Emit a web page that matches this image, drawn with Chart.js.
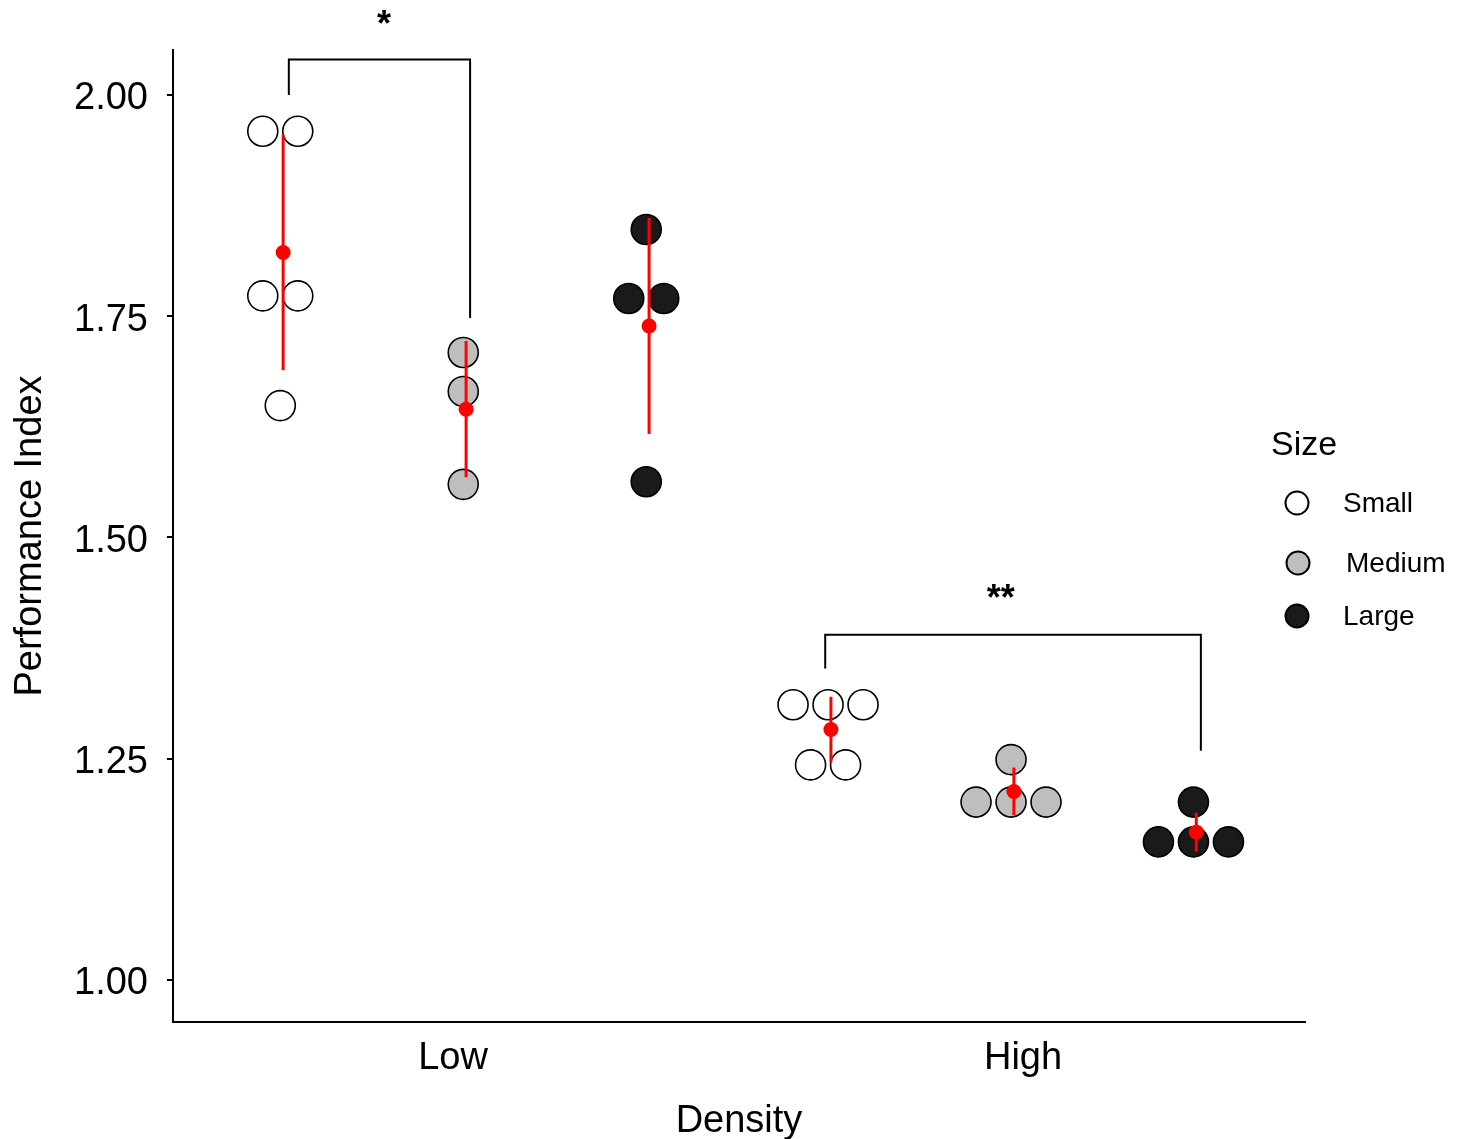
<!DOCTYPE html>
<html>
<head>
<meta charset="utf-8">
<script src="https://cdn.jsdelivr.net/npm/chart.js@4.4.1/dist/chart.umd.min.js"></script>
<style>
  html, body { margin: 0; padding: 0; background: #fff; }
  #wrap { width: 1464px; height: 1139px; }
</style>
</head>
<body>
<div id="wrap"><canvas id="perfChart" width="1464" height="1139"></canvas></div>
<script>
const densities = ['Low', 'High'];
const sizes = ['Small', 'Medium', 'Large'];

const smallLow = [1.959, 1.959, 1.773, 1.773, 1.649];
const smallHigh = [1.311, 1.311, 1.311, 1.243, 1.243];
const mediumLow = [1.709, 1.665, 1.560];
const mediumHigh = [1.249, 1.201, 1.201, 1.201];
const largeLow = [1.848, 1.770, 1.770, 1.563];
const largeHigh = [1.201, 1.156, 1.156, 1.156];

// means and error (+/-), Small / Medium / Large
const meanLow = [1.822, 1.645, 1.739];
const meanHigh = [1.283, 1.213, 1.167];
const errLow = [0.133, 0.077, 0.122];
const errHigh = [0.037, 0.027, 0.022];

const yTicks = [1.00, 1.25, 1.50, 1.75, 2.00];

// significance brackets: label, leg end values (left, right), bar value
const sigLabels = ['*', '**'];
const sigLegLeft = [2.000, 1.352];
const sigLegRight = [1.748, 1.259];
const sigBar = [2.040, 1.390];

// ---- layout (not data) ----
const FONT = "'Liberation Sans', Arial, Helvetica, sans-serif";
const dodgeLow = [-0.298, 0.023, 0.344];
const dodgeHigh = [-0.337, -0.016, 0.304];
const dotStep = 0.0614;   // one dot width in x units
const dotShift = -0.005;
const sigX = [[0.712, 1.030], [1.653, 2.312]];
const sigTextX = [0.879, 1.961];
const sigTextY = [2.089, 1.441];
const fills = ['#ffffff', '#bebebe', '#1a1a1a'];

const lowVals = [smallLow, mediumLow, largeLow];
const highVals = [smallHigh, mediumHigh, largeHigh];

// spread equal values side by side, like a dot plot
function dotPoints(values, cx) {
  const seen = [];
  values.forEach(v => { if (!seen.includes(v)) seen.push(v); });
  const pts = [];
  seen.forEach(v => {
    const n = values.filter(w => w === v).length;
    for (let k = 0; k < n; k++) {
      pts.push({ x: cx + dotShift + (k - (n - 1) / 2) * dotStep, y: v });
    }
  });
  return pts;
}

const datasets = [];

sizes.forEach((s, i) => {
  datasets.push({
    label: s,
    data: dotPoints(lowVals[i], 1 + dodgeLow[i]).concat(dotPoints(highVals[i], 2 + dodgeHigh[i])),
    backgroundColor: fills[i],
    borderColor: '#000',
    borderWidth: 1.6,
    pointRadius: 15,
    order: 3
  });
});

// error bars
sizes.forEach((s, i) => {
  [[1 + dodgeLow[i], meanLow[i], errLow[i]], [2 + dodgeHigh[i], meanHigh[i], errHigh[i]]].forEach(g => {
    datasets.push({
      data: [{ x: g[0], y: g[1] - g[2] }, { x: g[0], y: g[1] + g[2] }],
      showLine: true,
      borderColor: '#ff0000',
      borderWidth: 3,
      pointRadius: 0,
      order: 1
    });
  });
});

// means
const meanPts = [];
sizes.forEach((s, i) => {
  meanPts.push({ x: 1 + dodgeLow[i], y: meanLow[i] });
  meanPts.push({ x: 2 + dodgeHigh[i], y: meanHigh[i] });
});
datasets.push({
  label: 'mean',
  data: meanPts,
  backgroundColor: '#ff0000',
  borderColor: '#ff0000',
  borderWidth: 0,
  pointRadius: 7.5,
  order: 0
});

// brackets
sigLabels.forEach((l, i) => {
  datasets.push({
    data: [
      { x: sigX[i][0], y: sigLegLeft[i] },
      { x: sigX[i][0], y: sigBar[i] },
      { x: sigX[i][1], y: sigBar[i] },
      { x: sigX[i][1], y: sigLegRight[i] }
    ],
    showLine: true,
    borderColor: '#000',
    borderWidth: 2,
    pointRadius: 0,
    order: 4
  });
});

const extras = {
  id: 'extras',
  afterDraw(chart) {
    const ctx = chart.ctx;
    const xs = chart.scales.x, ys = chart.scales.y;
    ctx.save();
    ctx.fillStyle = '#000';
    ctx.textAlign = 'center';
    ctx.textBaseline = 'alphabetic';
    ctx.font = 'bold 36px ' + FONT;
    sigLabels.forEach((l, i) => {
      ctx.fillText(l, xs.getPixelForValue(sigTextX[i]), ys.getPixelForValue(sigTextY[i]) + 20);
    });

    // legend
    ctx.textAlign = 'left';
    ctx.textBaseline = 'middle';
    ctx.font = '34px ' + FONT;
    ctx.fillText('Size', 1271, 446);
    const ly = [503, 563, 616];
    const lx = [1297, 1298, 1297];
    const tx = [1343, 1346, 1343];
    ctx.font = '28px ' + FONT;
    sizes.forEach((s, i) => {
      ctx.beginPath();
      ctx.arc(lx[i], ly[i], 11.5, 0, Math.PI * 2);
      ctx.fillStyle = fills[i];
      ctx.fill();
      ctx.lineWidth = 2;
      ctx.strokeStyle = '#000';
      ctx.stroke();
      ctx.fillStyle = '#000';
      ctx.fillText(s, tx[i], ly[i] + 1);
    });
    ctx.restore();
  }
};

new Chart(document.getElementById('perfChart'), {
  type: 'scatter',
  data: { datasets: datasets },
  plugins: [extras],
  options: {
    responsive: false,
    animation: false,
    devicePixelRatio: 1,
    events: [],
    layout: { padding: { top: 50, right: 159, left: 0, bottom: 0 } },
    plugins: { legend: { display: false }, tooltip: { enabled: false } },
    scales: {
      x: {
        type: 'linear',
        min: 0.5088,
        max: 2.4947,
        afterBuildTicks: s => { s.ticks = densities.map((d, i) => ({ value: i + 1 })); },
        afterFit: s => { s.height = 117; },
        ticks: {
          callback: v => densities[v - 1],
          font: { family: FONT, size: 38 },
          color: '#000',
          padding: 14
        },
        grid: { display: false, drawTicks: false },
        border: { display: true, color: '#000', width: 2 },
        title: { display: true, text: 'Density', color: '#000', font: { family: FONT, size: 38 }, padding: { top: 0, bottom: -5 } }
      },
      y: {
        type: 'linear',
        min: 0.9525,
        max: 2.0508,
        afterBuildTicks: s => { s.ticks = yTicks.map(v => ({ value: v })); },
        afterFit: s => { s.width = 173; },
        ticks: {
          callback: v => v.toFixed(2),
          font: { family: FONT, size: 38 },
          color: '#000',
          padding: 19,
          labelOffset: 4
        },
        grid: { drawOnChartArea: false, drawTicks: true, tickLength: 6, color: '#000', lineWidth: 2 },
        border: { display: true, color: '#000', width: 2 },
        title: { display: true, text: 'Performance Index', color: '#000', font: { family: FONT, size: 38 }, padding: { top: 8, bottom: 0 } }
      }
    }
  }
});
</script>
</body>
</html>
